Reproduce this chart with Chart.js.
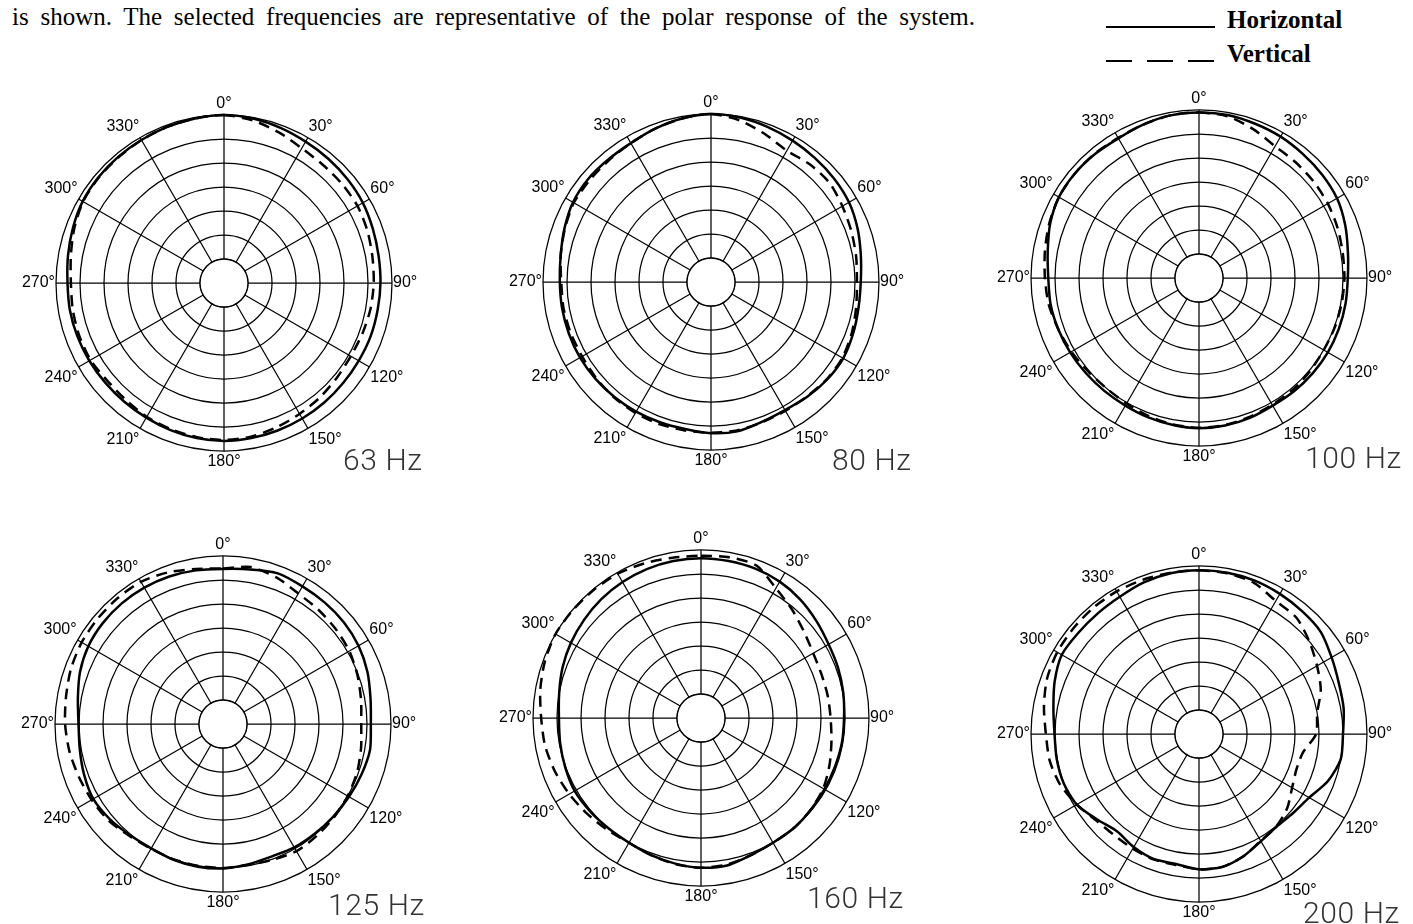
<!DOCTYPE html>
<html>
<head>
<meta charset="utf-8">
<script src="https://cdn.jsdelivr.net/npm/chart.js@4/dist/chart.umd.min.js"></script>
<style>
    html, body {
        margin: 0;
        padding: 0;
        background: #fff;
        width: 1413px;
        height: 924px;
        overflow: hidden;
        position: relative;
    }
    .intro {
        position: absolute;
        left: 12px;
        top: 4px;
        width: 963px;
        font: 25px/25px "Liberation Serif", "Times New Roman", serif;
        text-align: justify;
        text-align-last: justify;
        color: #000;
    }
    .key-line {
        position: absolute;
        left: 1106px;
        width: 109px;
        height: 2px;
    }
    .key-text {
        position: absolute;
        left: 1227px;
        font: bold 25px/25px "Liberation Serif", "Times New Roman", serif;
        color: #000;
    }
    canvas {
        position: absolute;
    }
</style>
</head>
<body>

<div class="intro">is shown. The selected frequencies are representative of the polar response of the system.</div>

<div class="key-line" style="top:26px; background:#000;"></div>
<div class="key-text" style="top:7px;">Horizontal</div>
<div class="key-line" style="top:60px; background:repeating-linear-gradient(to right, #000 0 26px, transparent 26px 41px);"></div>
<div class="key-text" style="top:41px;">Vertical</div>

<!-- each canvas: 378px chart area plus 12px padding above and below, centre 201px from the top -->
<canvas id="p63" width="480" height="402" style="left:-16px; top:82px;"></canvas>
<canvas id="p80" width="480" height="402" style="left:471px; top:81px;"></canvas>
<canvas id="p100" width="480" height="402" style="left:959px; top:77px;"></canvas>
<canvas id="p125" width="480" height="402" style="left:-17px; top:523px;"></canvas>
<canvas id="p160" width="480" height="402" style="left:461px; top:517px;"></canvas>
<canvas id="p200" width="480" height="402" style="left:959px; top:533px;"></canvas>

<script>
// === DATA (level in dB re. on-axis, one value every 10 degrees) ===
const angleLabels = ['0°', '10°', '20°', '30°', '40°', '50°', '60°', '70°', '80°', '90°', '100°', '110°',
    '120°', '130°', '140°', '150°', '160°', '170°', '180°', '190°', '200°', '210°', '220°', '230°',
    '240°', '250°', '260°', '270°', '280°', '290°', '300°', '310°', '320°', '330°', '340°', '350°'];

const ringTicks = [-35, 0, 5]; // min, max, step

const h63 = [0, -0.2, -0.6, -1.0, -1.2, -1.4, -1.6, -2.0, -2.3, -2.4, -2.5, -2.5,
    -2.6, -2.6, -2.5, -2.4, -2.3, -2.2, -2.1, -2.2, -2.4, -2.6, -2.7, -2.7,
    -2.6, -2.5, -2.4, -2.4, -2.0, -1.5, -1.0, -0.8, -0.7, -0.6, -0.4, -0.2];
const v63 = [0, -0.6, -1.6, -2.6, -2.9, -2.9, -2.9, -3.2, -3.6, -3.8, -4.0, -4.3,
    -4.5, -4.3, -3.9, -3.5, -3.0, -2.5, -2.3, -2.4, -2.6, -2.8, -3.2, -3.3,
    -2.9, -2.9, -3.0, -3.1, -2.6, -1.8, -1.1, -0.9, -0.8, -0.6, -0.4, -0.2];

const h80 = [0, -0.2, -0.6, -1.0, -1.3, -1.5, -1.8, -2.5, -3.3, -3.8, -3.8, -3.5,
    -3.2, -3.4, -3.8, -4.2, -4.0, -3.4, -3.5, -3.9, -3.9, -3.8, -3.7, -3.6,
    -3.5, -3.5, -3.5, -3.5, -3.2, -2.5, -1.8, -1.6, -1.7, -1.6, -1.0, -0.4];
const v80 = [0, -0.8, -2.2, -3.4, -3.0, -2.8, -3.4, -3.9, -4.3, -4.6, -4.3, -3.8,
    -3.4, -3.5, -3.9, -4.0, -3.9, -3.6, -3.6, -3.6, -3.5, -3.5, -3.6, -3.8,
    -4.0, -3.9, -3.8, -3.8, -3.2, -2.6, -2.0, -2.0, -1.9, -1.6, -1.0, -0.4];

const h100 = [-0.5, -0.5, -0.8, -1.0, -1.3, -1.5, -1.8, -2.6, -3.5, -4.0, -4.0, -4.0,
    -4.0, -4.1, -4.2, -4.3, -4.0, -3.8, -3.7, -3.9, -4.1, -4.3, -4.3, -4.2,
    -4.0, -3.8, -3.6, -3.6, -3.0, -2.0, -1.3, -1.2, -1.3, -1.4, -1.0, -0.6];
const v100 = [-0.5, -0.8, -2.0, -3.3, -3.6, -3.8, -4.0, -4.3, -4.6, -4.7, -4.8, -4.9,
    -5.0, -4.8, -4.6, -4.5, -4.2, -3.9, -3.8, -4.0, -4.4, -4.8, -5.0, -4.8,
    -4.3, -3.8, -3.2, -2.9, -2.4, -1.8, -1.3, -1.2, -1.2, -1.3, -1.0, -0.6];

const h125 = [-2.7, -2.3, -1.6, -1.9, -2.0, -2.1, -2.4, -3.0, -3.8, -4.2, -3.9, -4.3,
    -4.7, -5.0, -5.2, -5.3, -5.6, -5.3, -4.9, -4.8, -4.9, -5.1, -4.8, -4.2,
    -3.8, -4.2, -4.7, -4.9, -4.3, -3.3, -2.6, -2.3, -2.2, -2.2, -2.3, -2.5];
const v125 = [-2.6, -1.8, -2.5, -3.6, -4.0, -4.3, -4.6, -5.2, -5.8, -6.2, -5.8, -5.3,
    -5.0, -4.8, -4.6, -4.4, -4.9, -5.2, -5.0, -5.0, -5.0, -5.0, -4.6, -3.8,
    -3.4, -3.0, -2.5, -2.1, -1.8, -1.3, -1.0, -0.9, -0.8, -0.8, -1.4, -2.2];

const h160 = [-1.7, -1.8, -1.9, -2.2, -2.8, -3.6, -4.3, -4.6, -4.9, -5.2, -5.2, -5.3,
    -5.3, -5.2, -5.0, -5.0, -4.6, -3.8, -3.8, -4.2, -4.6, -5.0, -5.0, -4.8,
    -4.6, -4.9, -5.2, -5.4, -5.0, -4.3, -3.7, -3.2, -2.7, -2.3, -2.0, -1.8];
const v160 = [-1.2, -1.0, -1.2, -3.8, -5.5, -7.0, -8.0, -8.3, -8.2, -8.0, -7.4, -6.5,
    -5.6, -5.2, -5.0, -5.0, -4.6, -4.0, -3.8, -4.1, -4.6, -5.0, -4.6, -4.0,
    -3.3, -2.6, -2.0, -1.7, -1.0, -0.4, 0, -0.1, -0.2, -0.3, -0.7, -1.1];

const h200 = [-0.9, -0.9, -1.0, -1.3, -1.6, -1.9, -3.1, -4.0, -4.4, -5.0, -5.0, -6.4,
    -8.5, -9.4, -9.8, -9.2, -7.9, -6.9, -6.8, -7.5, -7.3, -7.8, -8.5, -7.3,
    -5.6, -5.0, -4.9, -4.9, -4.2, -3.0, -2.0, -2.2, -2.2, -2.0, -1.4, -1.0];
const v200 = [-0.9, -1.0, -1.5, -3.0, -3.4, -5.0, -6.6, -8.0, -10.0, -10.6, -13.0, -13.4,
    -12.6, -11.0, -9.9, -9.3, -7.9, -6.9, -6.8, -7.3, -7.2, -7.4, -7.5, -7.0,
    -5.6, -4.2, -3.4, -3.1, -2.2, -1.3, -0.9, -0.8, -0.7, -0.7, -0.8, -0.9];

const freqLabels = ['63 Hz', '80 Hz', '100 Hz', '125 Hz', '160 Hz', '200 Hz'];

// === PLUGINS ===
// white centre disc over the innermost ring
const holePlugin = {
    id: 'hole',
    beforeDatasetsDraw(chart) {
        const scale = chart.scales.r;
        const r = scale.getDistanceFromCenterForValue(ringTicks[0] + ringTicks[2]);
        const ctx = chart.ctx;
        ctx.save();
        ctx.beginPath();
        ctx.arc(scale.xCenter, scale.yCenter, r, 0, Math.PI * 2);
        ctx.fillStyle = '#fff';
        ctx.fill();
        ctx.lineWidth = 1.3;
        ctx.strokeStyle = '#000';
        ctx.stroke();
        ctx.restore();
    }
};

// frequency caption at the lower right of each plot
const freqPlugin = {
    id: 'freq',
    afterDraw(chart, args, opts) {
        const scale = chart.scales.r;
        const ctx = chart.ctx;
        ctx.save();
        ctx.font = '300 30px Roboto, "Liberation Sans", sans-serif';
        ctx.letterSpacing = '0.6px';
        ctx.fillStyle = '#333';
        ctx.textBaseline = 'alphabetic';
        ctx.textAlign = 'left';
        ctx.fillText(opts.text, scale.xCenter + opts.dx, scale.yCenter + opts.dy);
        ctx.restore();
    }
};

function makePolar(id, horiz, vert, caption, dx, dy) {
    new Chart(document.getElementById(id), {
        type: 'radar',
        data: {
            labels: angleLabels,
            datasets: [{
                label: 'Horizontal',
                data: horiz,
                borderColor: '#000',
                borderWidth: 2.5,
                pointRadius: 0,
                fill: false,
                tension: 0.25
            }, {
                label: 'Vertical',
                data: vert,
                borderColor: '#000',
                borderWidth: 2.5,
                borderDash: [11, 7],
                pointRadius: 0,
                fill: false,
                tension: 0.25
            }]
        },
        options: {
            responsive: false,
            animation: false,
            events: [],
            layout: { padding: { top: 12, bottom: 12, left: 0, right: 0 } },
            plugins: {
                legend: { display: false },
                tooltip: { enabled: false },
                freq: { text: caption, dx: dx, dy: dy }
            },
            scales: {
                r: {
                    min: ringTicks[0],
                    max: ringTicks[1],
                    startAngle: 0,
                    ticks: { display: false, stepSize: ringTicks[2] },
                    grid: { circular: true, color: '#000', lineWidth: 1.25 },
                    angleLines: {
                        color: '#000',
                        lineWidth: ctx => (ctx.index % 3 === 0 ? 1.25 : 0)
                    },
                    pointLabels: {
                        padding: 1,
                        color: '#000',
                        font: { family: '"Liberation Sans", Arial, sans-serif', size: 16, lineHeight: 1.25 },
                        callback: (label, index) => (index % 3 === 0 ? label : '')
                    }
                }
            }
        },
        plugins: [holePlugin, freqPlugin]
    });
}

makePolar('p63', h63, v63, freqLabels[0], 119, 187);
makePolar('p80', h80, v80, freqLabels[1], 121, 188);
makePolar('p100', h100, v100, freqLabels[2], 106, 190);
makePolar('p125', h125, v125, freqLabels[3], 105, 191);
makePolar('p160', h160, v160, freqLabels[4], 106, 190);
makePolar('p200', h200, v200, freqLabels[5], 104, 189);
</script>
</body>
</html>
